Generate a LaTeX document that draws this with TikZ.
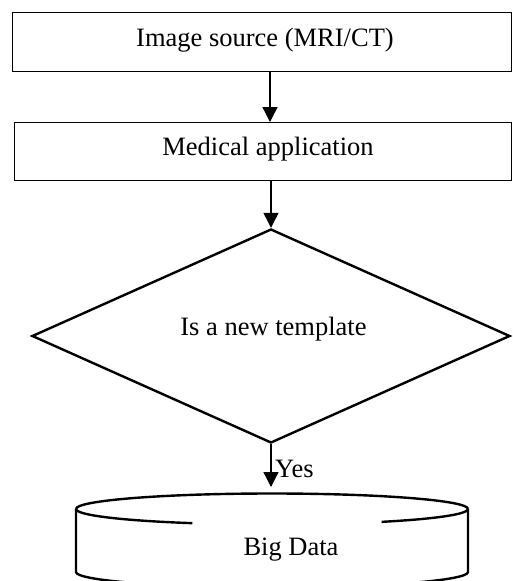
\documentclass[tikz,border=0pt]{standalone}
\usepackage{fontspec}
\setmainfont{Liberation Serif}
\usetikzlibrary{shapes.geometric,arrows.meta}
\begin{document}
\begin{tikzpicture}[x=1pt,y=-1pt,
  box/.style={draw,line width=1.3pt,inner sep=0pt,anchor=north west},
  lbl/.style={font=\fontsize{26.5}{30}\selectfont,inner sep=0pt,anchor=base},
  arr/.style={line width=1.3pt,-{Triangle[length=15pt,width=15pt]}},
  thick2/.style={line width=2.4pt}]
\useasboundingbox (0,0) rectangle (512,581);
\node[box,minimum width=499pt,minimum height=59pt] (src) at (12,12) {};
\node[lbl] (srct) at (265,46) {Image source (MRI/CT)};
\node[box,minimum width=497pt,minimum height=58pt] (med) at (14,122) {};
\node[lbl] (medt) at (268,155) {Medical application};
\node[draw,thick2,shape=diamond,minimum width=478pt,minimum height=214pt,inner sep=0pt] (dec) at (271,336) {};
\node[lbl] (dect) at (273.5,335) {Is a new template};
% cylinder
\coordinate (cyltop) at (271,493);
\draw[thick2] (76,509) arc[start angle=180,end angle=360,x radius=196,y radius=15.5];
\draw[thick2] (76,509) arc[start angle=180,end angle=114,x radius=196,y radius=15.5];
\draw[thick2] (468,509) arc[start angle=0,end angle=56,x radius=196,y radius=15.5];
\draw[thick2] (76,509) -- (76,572) arc[start angle=180,end angle=0,x radius=196,y radius=15.5] -- (468,509);
\node[lbl] (bd) at (291,555) {Big Data};
\draw[arr] (src.south -| 270,0) -- (med.north -| 270,0);
\draw[arr] (med.south -| dec.north) -- (dec.north);
\draw[arr] (dec.south) -- ([yshift=6pt]cyltop);
\node[lbl,anchor=base west] (yes) at (275,477) {Yes};
\end{tikzpicture}
\end{document}
